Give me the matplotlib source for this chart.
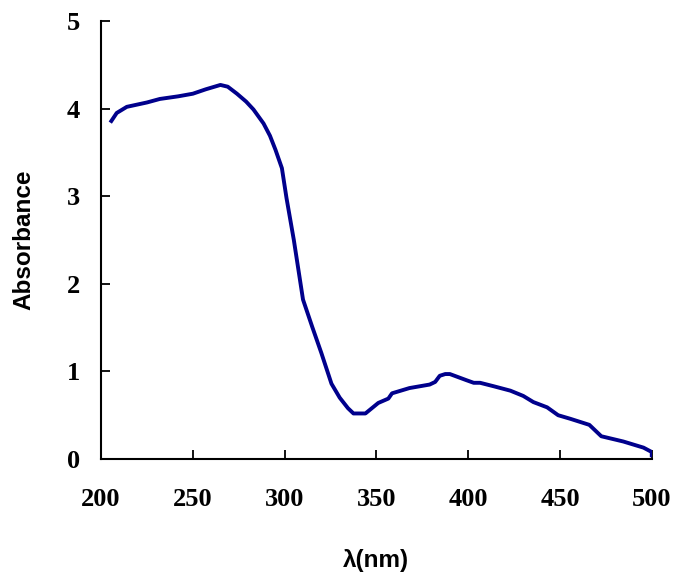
import matplotlib
matplotlib.use('Agg')
import matplotlib.pyplot as plt

# absorption spectrum
wavelength = [205, 208.5, 214, 225, 232, 242, 250, 257, 265, 269, 274, 279, 283, 288.5, 292,
              295, 298.5, 301, 305, 310, 315, 320, 325.5, 330, 334.5, 337.5, 344, 351,
              356.5, 358.5, 368, 379, 382, 384.5, 387.5, 390, 399, 403, 406.5, 414, 423,
              430, 435.5, 443, 449, 455.5, 466, 469, 472.5, 484.5, 495.5, 500, 500]
absorbance = [3.84, 3.95, 4.02, 4.07, 4.11, 4.14, 4.17, 4.22, 4.27, 4.25, 4.17, 4.08, 3.99,
              3.83, 3.69, 3.53, 3.32, 2.98, 2.5, 1.82, 1.51, 1.21, 0.86, 0.7, 0.58, 0.52, 0.52,
              0.64, 0.69, 0.75, 0.81, 0.85, 0.88, 0.95, 0.97, 0.97, 0.90, 0.87, 0.87, 0.83,
              0.78, 0.72, 0.65, 0.59, 0.50, 0.46, 0.39, 0.33, 0.26, 0.20, 0.13, 0.08, 0.02]
xticks = [200, 250, 300, 350, 400, 450, 500]
yticks = [0, 1, 2, 3, 4, 5]

fig = plt.figure(figsize=(6.74, 5.75), dpi=100)
ax = fig.add_axes([0.150, 0.2017, 0.817, 0.7618])

ax.plot(wavelength, absorbance, color='#00008c', linewidth=2.8,
        solid_joinstyle='round', solid_capstyle='butt')

ax.set_xlim(200, 500)
ax.set_ylim(0, 5)
ax.set_xticks(xticks)
ax.set_yticks(yticks)

for s in ['top', 'right']:
    ax.spines[s].set_visible(False)
for s in ['left', 'bottom']:
    ax.spines[s].set_linewidth(1.5)

ax.tick_params(direction='in', length=6.5, width=1.3)
ax.tick_params(axis='x', pad=21)
ax.tick_params(axis='y', pad=15)
for lab in ax.get_xticklabels() + ax.get_yticklabels():
    lab.set_family('Liberation Serif')
    lab.set_fontweight('bold')
    lab.set_fontsize(19)

ax.set_xlabel('λ(nm)', family='Liberation Sans', fontweight='bold', fontsize=17.5)
ax.set_ylabel('Absorbance', family='Liberation Sans', fontweight='bold', fontsize=17.5)
ax.xaxis.set_label_coords(0.5, -0.205)
ax.yaxis.set_label_coords(-0.12, 0.5)

plt.savefig('out.png', dpi=100)
